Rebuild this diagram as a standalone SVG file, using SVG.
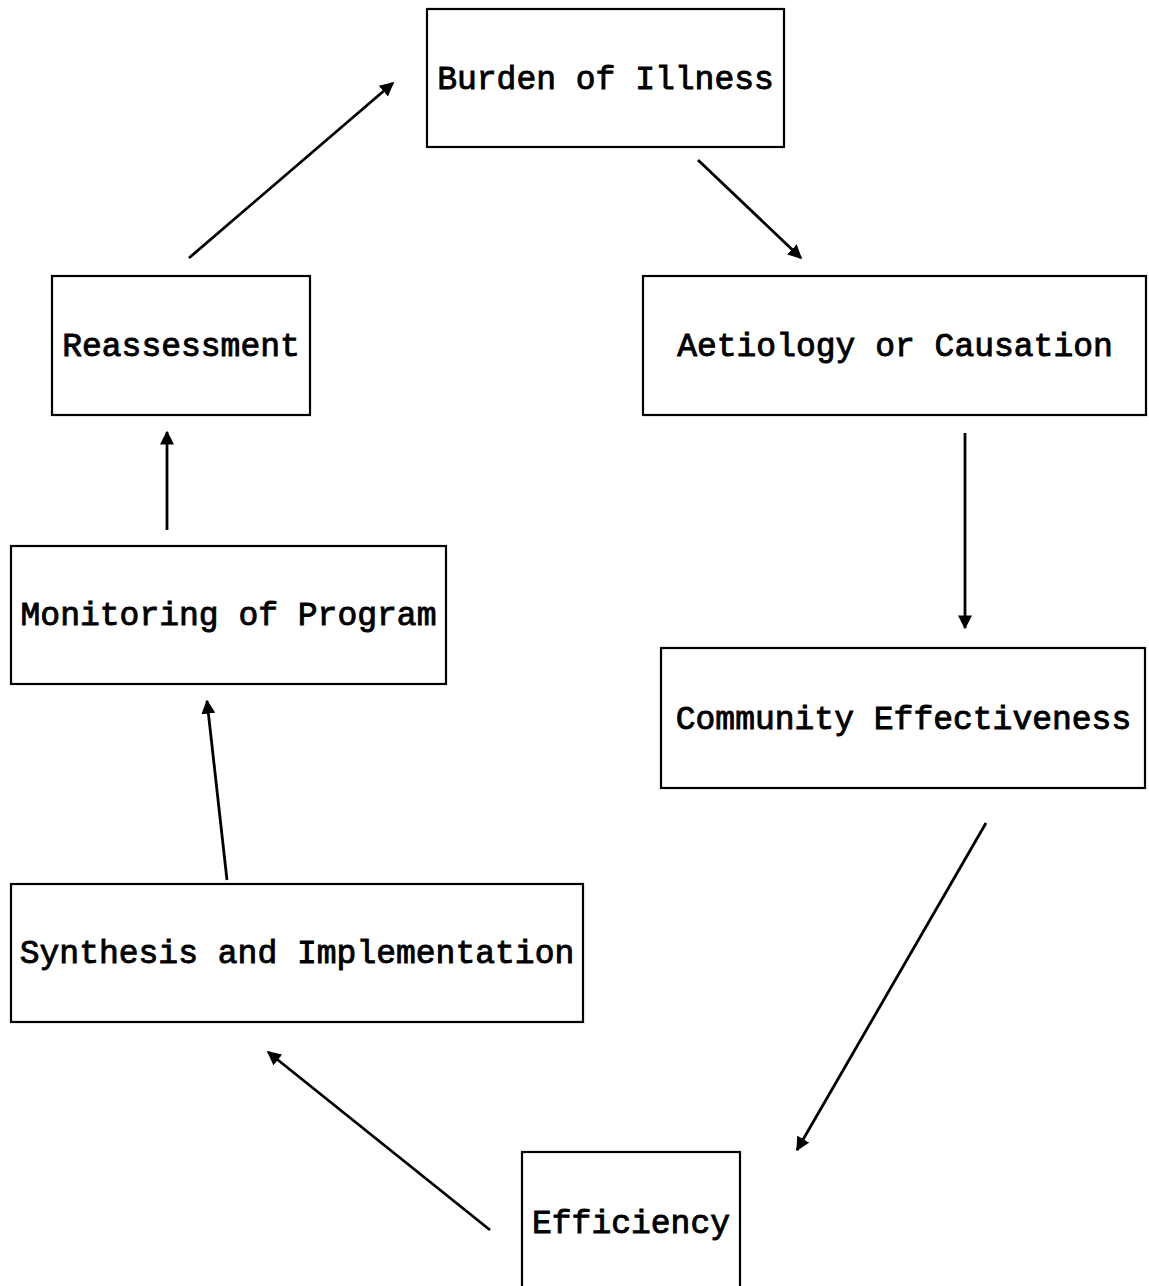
<svg xmlns="http://www.w3.org/2000/svg" width="1149" height="1286" viewBox="0 0 1149 1286">
<style>
.box{fill:#fff;stroke:#000;stroke-width:2.2}
.lbl{font-family:"Liberation Mono","Courier New",monospace;font-size:33px;fill:#000;stroke:#000;stroke-width:0.9;text-anchor:middle;dominant-baseline:central}
.conn{stroke:#000;stroke-width:2.8;fill:none;marker-end:url(#ah)}
</style>
<defs>
<marker id="ah" viewBox="0 0 10 10" refX="9" refY="5" markerWidth="5" markerHeight="5" orient="auto" markerUnits="strokeWidth">
<path d="M0,0 L10,5 L0,10 Z" fill="#000"/>
</marker>
</defs>
<rect width="1149" height="1286" fill="#fff"/>
<g id="node-burden"><rect class="box" x="427" y="9" width="357" height="138"/><text class="lbl" x="605.5" y="80">Burden of Illness</text></g>
<g id="node-aetiology"><rect class="box" x="643" y="276" width="503" height="139"/><text class="lbl" x="895" y="347">Aetiology or Causation</text></g>
<g id="node-community"><rect class="box" x="661" y="648" width="484" height="140"/><text class="lbl" x="903.5" y="720">Community Effectiveness</text></g>
<g id="node-efficiency"><rect class="box" x="522" y="1152" width="218" height="140"/><text class="lbl" x="631" y="1224">Efficiency</text></g>
<g id="node-synthesis"><rect class="box" x="11" y="884" width="572" height="138"/><text class="lbl" x="297" y="954">Synthesis and Implementation</text></g>
<g id="node-monitoring"><rect class="box" x="11" y="546" width="435" height="138"/><text class="lbl" x="228.5" y="616">Monitoring of Program</text></g>
<g id="node-reassessment"><rect class="box" x="52" y="276" width="258" height="139"/><text class="lbl" x="181" y="347">Reassessment</text></g>
<g id="connectors">
<line class="conn" x1="189" y1="258" x2="393" y2="83"/>
<line class="conn" x1="698" y1="160" x2="801" y2="258"/>
<line class="conn" x1="965" y1="433" x2="965" y2="628"/>
<line class="conn" x1="986" y1="823" x2="797" y2="1150"/>
<line class="conn" x1="490" y1="1230" x2="268" y2="1052"/>
<line class="conn" x1="227" y1="880" x2="207" y2="701"/>
<line class="conn" x1="167" y1="530" x2="167" y2="432"/>
</g>
</svg>
